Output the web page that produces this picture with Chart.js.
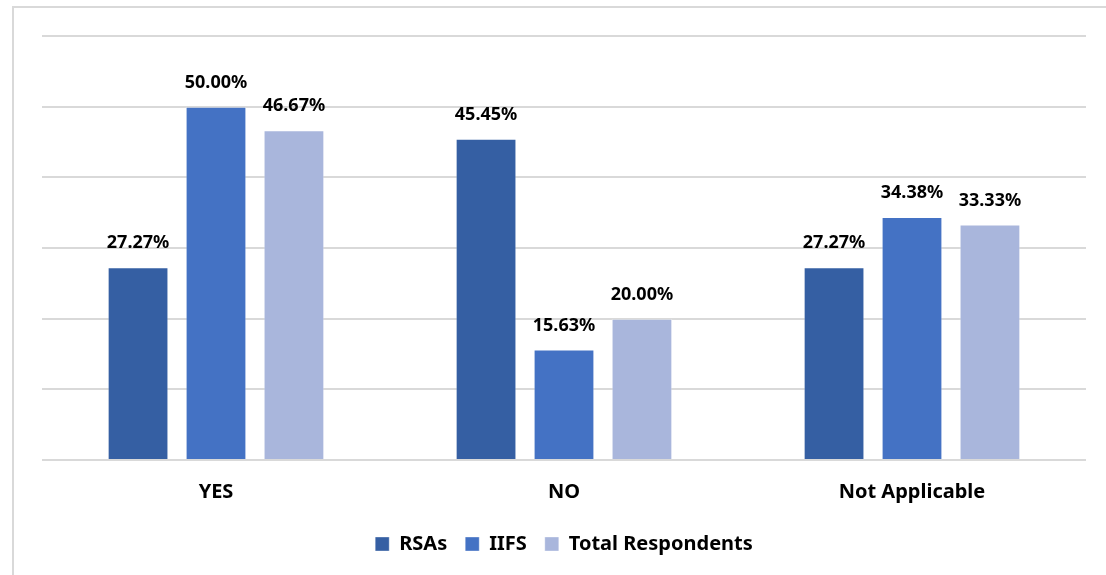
<!DOCTYPE html>
<html>
<head>
<meta charset="utf-8">
<script src="https://cdn.jsdelivr.net/npm/chart.js@4/dist/chart.umd.min.js"></script>
<style>
  html, body { margin: 0; padding: 0; background: #ffffff; overflow: hidden; }
  #wrap { position: absolute; left: 0; top: 0; width: 1106px; height: 575px; }
  #frame { position: absolute; left: 12px; top: 6px; width: 1200px; height: 700px;
           border-left: 2px solid #d9d9d9; border-top: 2px solid #d9d9d9; }
  canvas { position: absolute; left: 0; top: 0; }
</style>
</head>
<body>
<div id="wrap">
  <div id="frame"></div>
  <canvas id="chart" width="1106" height="575"></canvas>
</div>
<script>
// Survey answers by respondent group (percent)
const categories = ['YES', 'NO', 'Not Applicable'];
const seriesNames = ['RSAs', 'IIFS', 'Total Respondents'];
const rsas = [27.27, 45.45, 27.27];
const iifs = [50.00, 15.63, 34.38];
const totalRespondents = [46.67, 20.00, 33.33];
const seriesColors = ['#355fa3', '#4472c4', '#a9b6dc'];

const FONT = '"Noto Sans", "Open Sans", sans-serif';

// Draws the percentage label above each bar
const valueLabels = {
  id: 'valueLabels',
  afterDatasetsDraw(chart) {
    const ctx = chart.ctx;
    ctx.save();
    ctx.font = 'bold 18px ' + FONT;
    ctx.fillStyle = '#000000';
    ctx.textAlign = 'center';
    ctx.textBaseline = 'middle';
    chart.data.datasets.forEach((ds, i) => {
      chart.getDatasetMeta(i).data.forEach((bar, j) => {
        ctx.fillText(ds.data[j].toFixed(2) + '%', bar.x, bar.y - 24);
      });
    });
    ctx.restore();
  }
};

const values = [rsas, iifs, totalRespondents];

new Chart(document.getElementById('chart'), {
  type: 'bar',
  data: {
    labels: categories,
    datasets: seriesNames.map((name, i) => ({
      label: name,
      data: values[i],
      backgroundColor: seriesColors[i],
      borderColor: 'rgba(255,255,255,0.35)',
      borderWidth: 1,
      barPercentage: 0.78,
      categoryPercentage: 0.672
    }))
  },
  options: {
    responsive: false,
    animation: false,
    layout: { padding: { left: 42, right: 20, top: 36, bottom: 11 } },
    scales: {
      x: {
        grid: { display: false },
        border: { display: false },
        ticks: {
          color: '#000000',
          padding: 12,
          font: { family: FONT, size: 20, weight: 'bold' }
        }
      },
      y: {
        min: 0,
        max: 60,
        ticks: { display: false, stepSize: 10 },
        border: { display: false },
        grid: { color: '#d9d9d9', lineWidth: 2, drawTicks: false }
      }
    },
    plugins: {
      legend: {
        position: 'bottom',
        labels: {
          color: '#000000',
          boxWidth: 14,
          boxHeight: 14,
          padding: 18,
          font: { family: FONT, size: 20, weight: 'bold' }
        }
      },
      tooltip: { enabled: false }
    }
  },
  plugins: [valueLabels]
});
</script>
</body>
</html>
